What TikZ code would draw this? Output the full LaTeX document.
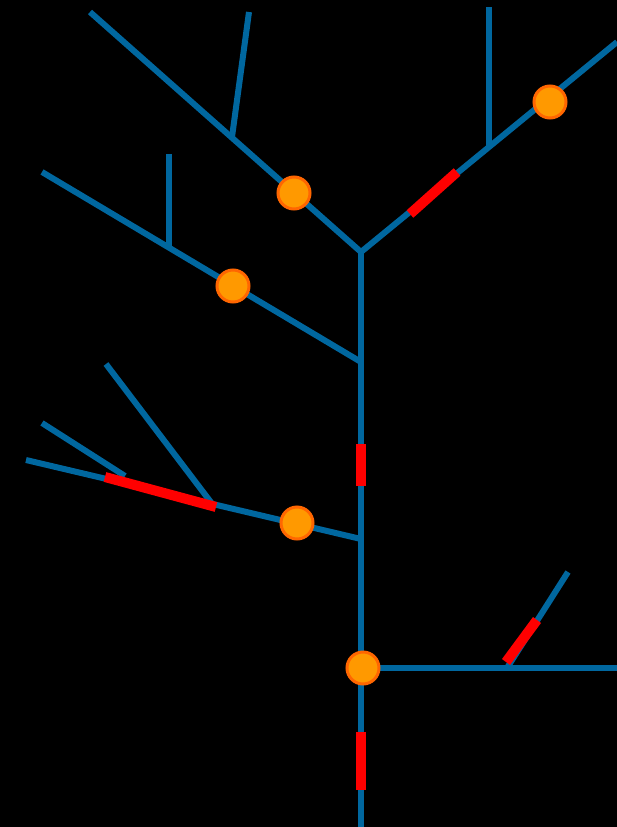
\documentclass[tikz,border=0pt]{standalone}
\begin{document}
\begin{tikzpicture}[x=1pt,y=-1pt,
  branch/.style={draw=blueline,line width=6pt},
  redseg/.style={draw=red,line width=10pt},
  dot/.style={circle,draw=orangeedge,fill=orangefill,line width=3pt,minimum size=32pt,inner sep=0pt}]
\definecolor{blueline}{HTML}{00679F}
\definecolor{orangefill}{HTML}{FF9900}
\definecolor{orangeedge}{HTML}{FF6600}
\fill[black] (0,0) rectangle (617,827);
\useasboundingbox (0,0) rectangle (617,827);
% coordinates
\coordinate (base) at (361,827);
\coordinate (j1) at (361,252);
\coordinate (j2) at (361,362);
\coordinate (j3) at (361,539);
\coordinate (j4) at (361,668);
\coordinate (ul) at (90,12);
\coordinate (ulj) at (232,137);
\coordinate (ult) at (249,12);
\coordinate (ur) at (617,42);
\coordinate (urj) at (489,147);
\coordinate (urt) at (489,7);
\coordinate (ml) at (42,172);
\coordinate (mlj) at (169,247);
\coordinate (mlt) at (169,154);
\coordinate (ll) at (26,460);
\coordinate (llj) at (213,505);
\coordinate (lls) at (106,364);
\coordinate (llk) at (125,476);
\coordinate (llu) at (42,423);
\coordinate (rr) at (617,668);
\coordinate (rrj) at (507,668);
\coordinate (rrt) at (568,572);
% blue branches
\draw[branch] (base) -- (j1);
\draw[branch] (j1) -- (ul);
\draw[branch] (ulj) -- (ult);
\draw[branch] (j1) -- (ur);
\draw[branch] (urj) -- (urt);
\draw[branch] (j2) -- (ml);
\draw[branch] (mlj) -- (mlt);
\draw[branch] (j3) -- (ll);
\draw[branch] (llj) -- (lls);
\draw[branch] (llk) -- (llu);
\draw[branch] (j4) -- (rr);
\draw[branch] (rrj) -- (rrt);
% red segments
\coordinate (r1a) at (410,214); \coordinate (r1b) at (457,172);
\coordinate (r2a) at (361,444); \coordinate (r2b) at (361,486);
\coordinate (r3a) at (105,477); \coordinate (r3b) at (216,507);
\coordinate (r4a) at (506,662); \coordinate (r4b) at (537,620);
\coordinate (r5a) at (361,732); \coordinate (r5b) at (361,790);
\draw[redseg] (r1a) -- (r1b);
\draw[redseg] (r2a) -- (r2b);
\draw[redseg] (r3a) -- (r3b);
\draw[redseg] (r4a) -- (r4b);
\draw[redseg] (r5a) -- (r5b);
% dots
\node[dot] (d1) at (294,193) {};
\node[dot] (d2) at (550,102) {};
\node[dot] (d3) at (233,286) {};
\node[dot] (d4) at (297,523) {};
\node[dot] (d5) at (363,668) {};
\end{tikzpicture}
\end{document}
